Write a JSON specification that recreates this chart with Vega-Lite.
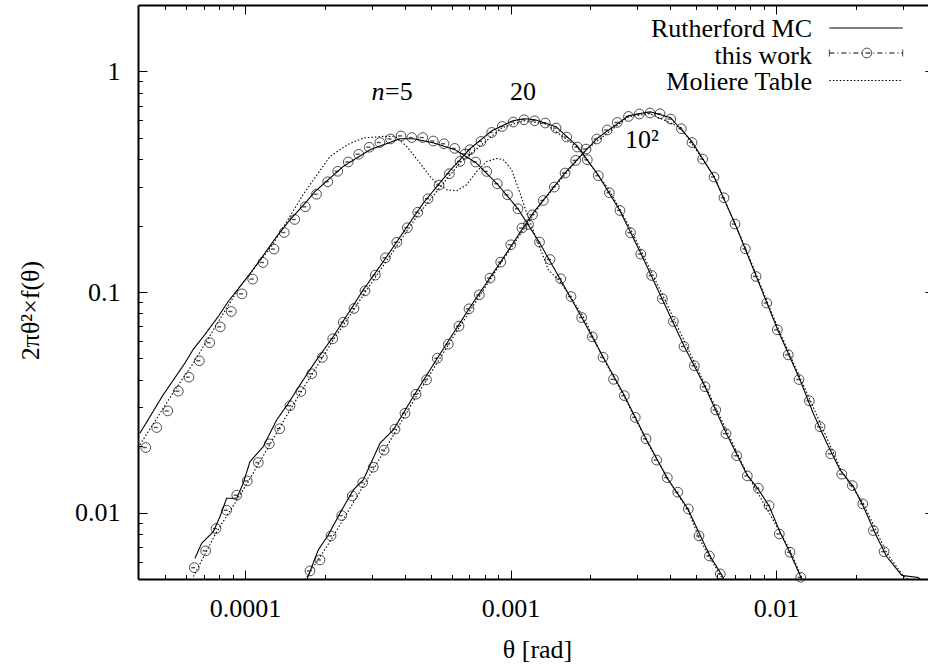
{
  "$schema": "https://vega.github.io/schema/vega-lite/v6.json",
  "width": 790,
  "height": 574,
  "autosize": {"type": "none"},
  "padding": {"left": 138, "top": 5, "right": 0, "bottom": 86},
  "background": "white",
  "config": {
    "view": {"stroke": null},
    "font": "'Liberation Serif', 'Times New Roman', 'DejaVu Serif', serif",
    "text": {"font": "'Liberation Serif', 'Times New Roman', 'DejaVu Serif', serif", "color": "black"}
  },
  "datasets": {
    "curves": [
      {"n": "5", "model": "Rutherford MC", "theta": 4.02e-5, "f": 0.0229},
      {"n": "5", "model": "Rutherford MC", "theta": 4.92e-5, "f": 0.0342},
      {"n": "5", "model": "Rutherford MC", "theta": 5.94e-5, "f": 0.0476},
      {"n": "5", "model": "Rutherford MC", "theta": 6.39e-5, "f": 0.0551},
      {"n": "5", "model": "Rutherford MC", "theta": 6.97e-5, "f": 0.0628},
      {"n": "5", "model": "Rutherford MC", "theta": 7.93e-5, "f": 0.0774},
      {"n": "5", "model": "Rutherford MC", "theta": 8.65e-5, "f": 0.0906},
      {"n": "5", "model": "Rutherford MC", "theta": 9.58e-5, "f": 0.1059},
      {"n": "5", "model": "Rutherford MC", "theta": 1.06e-4, "f": 0.1239},
      {"n": "5", "model": "Rutherford MC", "theta": 1.189e-4, "f": 0.1501},
      {"n": "5", "model": "Rutherford MC", "theta": 1.316e-4, "f": 0.1785},
      {"n": "5", "model": "Rutherford MC", "theta": 1.477e-4, "f": 0.2125},
      {"n": "5", "model": "Rutherford MC", "theta": 1.708e-4, "f": 0.2573},
      {"n": "5", "model": "Rutherford MC", "theta": 1.835e-4, "f": 0.2856},
      {"n": "5", "model": "Rutherford MC", "theta": 2.345e-4, "f": 0.3709},
      {"n": "5", "model": "Rutherford MC", "theta": 2.957e-4, "f": 0.4415},
      {"n": "5", "model": "Rutherford MC", "theta": 3.835e-4, "f": 0.4953},
      {"n": "5", "model": "Rutherford MC", "theta": 4.295e-4, "f": 0.4953},
      {"n": "5", "model": "Rutherford MC", "theta": 5.107e-4, "f": 0.475},
      {"n": "5", "model": "Rutherford MC", "theta": 6.18e-4, "f": 0.4415},
      {"n": "5", "model": "Rutherford MC", "theta": 7.414e-4, "f": 0.3854},
      {"n": "5", "model": "Rutherford MC", "theta": 8.897e-4, "f": 0.3096},
      {"n": "5", "model": "Rutherford MC", "theta": 1.067e-3, "f": 0.2384},
      {"n": "5", "model": "Rutherford MC", "theta": 1.28e-3, "f": 0.169},
      {"n": "5", "model": "Rutherford MC", "theta": 1.536e-3, "f": 0.1148},
      {"n": "5", "model": "Rutherford MC", "theta": 1.858e-3, "f": 0.0764},
      {"n": "5", "model": "Rutherford MC", "theta": 2.231e-3, "f": 0.0508},
      {"n": "5", "model": "Rutherford MC", "theta": 2.676e-3, "f": 0.0342},
      {"n": "5", "model": "Rutherford MC", "theta": 3.239e-3, "f": 0.0216},
      {"n": "5", "model": "Rutherford MC", "theta": 3.886e-3, "f": 0.01437},
      {"n": "5", "model": "Rutherford MC", "theta": 4.661e-3, "f": 0.01039},
      {"n": "5", "model": "Rutherford MC", "theta": 5.129e-3, "f": 0.00809},
      {"n": "5", "model": "Rutherford MC", "theta": 5.64e-3, "f": 0.00636},
      {"n": "5", "model": "Rutherford MC", "theta": 6.31e-3, "f": 0.00511},
      {"n": "5", "model": "Rutherford MC", "theta": 6.48e-3, "f": 0.0047},

      {"n": "5", "model": "Moliere Table", "theta": 4.02e-5, "f": 0.0203},
      {"n": "5", "model": "Moliere Table", "theta": 5.45e-5, "f": 0.036},
      {"n": "5", "model": "Moliere Table", "theta": 6.39e-5, "f": 0.0476},
      {"n": "5", "model": "Moliere Table", "theta": 7.93e-5, "f": 0.0733},
      {"n": "5", "model": "Moliere Table", "theta": 9.58e-5, "f": 0.1059},
      {"n": "5", "model": "Moliere Table", "theta": 1.278e-4, "f": 0.1654},
      {"n": "5", "model": "Moliere Table", "theta": 1.654e-4, "f": 0.276},
      {"n": "5", "model": "Moliere Table", "theta": 2.09e-4, "f": 0.4117},
      {"n": "5", "model": "Moliere Table", "theta": 2.45e-4, "f": 0.468},
      {"n": "5", "model": "Moliere Table", "theta": 2.79e-4, "f": 0.4989},
      {"n": "5", "model": "Moliere Table", "theta": 3.319e-4, "f": 0.5073},
      {"n": "5", "model": "Moliere Table", "theta": 3.673e-4, "f": 0.508},
      {"n": "5", "model": "Moliere Table", "theta": 4.064e-4, "f": 0.457},
      {"n": "5", "model": "Moliere Table", "theta": 4.561e-4, "f": 0.3842},
      {"n": "5", "model": "Moliere Table", "theta": 4.975e-4, "f": 0.3341},
      {"n": "5", "model": "Moliere Table", "theta": 5.272e-4, "f": 0.3118},
      {"n": "5", "model": "Moliere Table", "theta": 5.75e-4, "f": 0.2907},
      {"n": "5", "model": "Moliere Table", "theta": 6.272e-4, "f": 0.2877},
      {"n": "5", "model": "Moliere Table", "theta": 6.839e-4, "f": 0.3064},
      {"n": "5", "model": "Moliere Table", "theta": 7.459e-4, "f": 0.3519},
      {"n": "5", "model": "Moliere Table", "theta": 8.136e-4, "f": 0.3907},
      {"n": "5", "model": "Moliere Table", "theta": 8.872e-4, "f": 0.4031},
      {"n": "5", "model": "Moliere Table", "theta": 9.396e-4, "f": 0.3977},
      {"n": "5", "model": "Moliere Table", "theta": 1.01e-3, "f": 0.3582},
      {"n": "5", "model": "Moliere Table", "theta": 1.086e-3, "f": 0.2809},
      {"n": "5", "model": "Moliere Table", "theta": 1.151e-3, "f": 0.2279},
      {"n": "5", "model": "Moliere Table", "theta": 1.255e-3, "f": 0.1724},
      {"n": "5", "model": "Moliere Table", "theta": 1.329e-3, "f": 0.1449},
      {"n": "5", "model": "Moliere Table", "theta": 1.388e-3, "f": 0.1261},
      {"n": "5", "model": "Moliere Table", "theta": 1.536e-3, "f": 0.1116},
      {"n": "5", "model": "Moliere Table", "theta": 1.675e-3, "f": 0.0954},
      {"n": "5", "model": "Moliere Table", "theta": 1.88e-3, "f": 0.0774},
      {"n": "5", "model": "Moliere Table", "theta": 2.231e-3, "f": 0.0503},
      {"n": "5", "model": "Moliere Table", "theta": 2.683e-3, "f": 0.0335},
      {"n": "5", "model": "Moliere Table", "theta": 3.239e-3, "f": 0.0214},
      {"n": "5", "model": "Moliere Table", "theta": 3.896e-3, "f": 0.01437},
      {"n": "5", "model": "Moliere Table", "theta": 4.674e-3, "f": 0.01018},
      {"n": "5", "model": "Moliere Table", "theta": 5.129e-3, "f": 0.00768},
      {"n": "5", "model": "Moliere Table", "theta": 5.64e-3, "f": 0.00623},
      {"n": "5", "model": "Moliere Table", "theta": 6.26e-3, "f": 0.00506},
      {"n": "5", "model": "Moliere Table", "theta": 6.45e-3, "f": 0.0047},

      {"n": "20", "model": "Rutherford MC", "theta": 6.48e-5, "f": 0.00621},
      {"n": "20", "model": "Rutherford MC", "theta": 6.87e-5, "f": 0.00726},
      {"n": "20", "model": "Rutherford MC", "theta": 7.6e-5, "f": 0.0082},
      {"n": "20", "model": "Rutherford MC", "theta": 8.05e-5, "f": 0.00959},
      {"n": "20", "model": "Rutherford MC", "theta": 8.53e-5, "f": 0.01162},
      {"n": "20", "model": "Rutherford MC", "theta": 9.31e-5, "f": 0.01162},
      {"n": "20", "model": "Rutherford MC", "theta": 9.85e-5, "f": 0.01359},
      {"n": "20", "model": "Rutherford MC", "theta": 1.044e-4, "f": 0.01703},
      {"n": "20", "model": "Rutherford MC", "theta": 1.172e-4, "f": 0.01992},
      {"n": "20", "model": "Rutherford MC", "theta": 1.316e-4, "f": 0.0263},
      {"n": "20", "model": "Rutherford MC", "theta": 1.456e-4, "f": 0.0313},
      {"n": "20", "model": "Rutherford MC", "theta": 1.658e-4, "f": 0.04},
      {"n": "20", "model": "Rutherford MC", "theta": 1.862e-4, "f": 0.0493},
      {"n": "20", "model": "Rutherford MC", "theta": 2.151e-4, "f": 0.0628},
      {"n": "20", "model": "Rutherford MC", "theta": 2.79e-4, "f": 0.1023},
      {"n": "20", "model": "Rutherford MC", "theta": 3.319e-4, "f": 0.1375},
      {"n": "20", "model": "Rutherford MC", "theta": 4.695e-4, "f": 0.2531},
      {"n": "20", "model": "Rutherford MC", "theta": 5.867e-4, "f": 0.3508},
      {"n": "20", "model": "Rutherford MC", "theta": 7.038e-4, "f": 0.4461},
      {"n": "20", "model": "Rutherford MC", "theta": 8.517e-4, "f": 0.5384},
      {"n": "20", "model": "Rutherford MC", "theta": 1.022e-3, "f": 0.5976},
      {"n": "20", "model": "Rutherford MC", "theta": 1.124e-3, "f": 0.6103},
      {"n": "20", "model": "Rutherford MC", "theta": 1.237e-3, "f": 0.6039},
      {"n": "20", "model": "Rutherford MC", "theta": 1.484e-3, "f": 0.5613},
      {"n": "20", "model": "Rutherford MC", "theta": 1.78e-3, "f": 0.4603},
      {"n": "20", "model": "Rutherford MC", "theta": 2.136e-3, "f": 0.3401},
      {"n": "20", "model": "Rutherford MC", "theta": 2.584e-3, "f": 0.2335},
      {"n": "20", "model": "Rutherford MC", "theta": 3.101e-3, "f": 0.149},
      {"n": "20", "model": "Rutherford MC", "theta": 3.721e-3, "f": 0.0932},
      {"n": "20", "model": "Rutherford MC", "theta": 4.503e-3, "f": 0.057},
      {"n": "20", "model": "Rutherford MC", "theta": 5.402e-3, "f": 0.0372},
      {"n": "20", "model": "Rutherford MC", "theta": 6.482e-3, "f": 0.023},
      {"n": "20", "model": "Rutherford MC", "theta": 7.777e-3, "f": 0.01483},
      {"n": "20", "model": "Rutherford MC", "theta": 8.556e-3, "f": 0.01281},
      {"n": "20", "model": "Rutherford MC", "theta": 9.41e-3, "f": 0.01073},
      {"n": "20", "model": "Rutherford MC", "theta": 1.035e-2, "f": 0.00817},
      {"n": "20", "model": "Rutherford MC", "theta": 1.129e-2, "f": 0.00656},
      {"n": "20", "model": "Rutherford MC", "theta": 1.264e-2, "f": 0.00485},

      {"n": "20", "model": "Moliere Table", "theta": 6.39e-5, "f": 0.00513},
      {"n": "20", "model": "Moliere Table", "theta": 7.78e-5, "f": 0.00809},
      {"n": "20", "model": "Moliere Table", "theta": 1.017e-4, "f": 0.0135},
      {"n": "20", "model": "Moliere Table", "theta": 1.477e-4, "f": 0.0292},
      {"n": "20", "model": "Moliere Table", "theta": 2.127e-4, "f": 0.0594},
      {"n": "20", "model": "Moliere Table", "theta": 3.087e-4, "f": 0.116},
      {"n": "20", "model": "Moliere Table", "theta": 4.483e-4, "f": 0.2239},
      {"n": "20", "model": "Moliere Table", "theta": 6.453e-4, "f": 0.3854},
      {"n": "20", "model": "Moliere Table", "theta": 9.29e-4, "f": 0.5555},
      {"n": "20", "model": "Moliere Table", "theta": 1.124e-3, "f": 0.5976},
      {"n": "20", "model": "Moliere Table", "theta": 1.349e-3, "f": 0.5791},
      {"n": "20", "model": "Moliere Table", "theta": 1.78e-3, "f": 0.4555},
      {"n": "20", "model": "Moliere Table", "theta": 2.35e-3, "f": 0.2907},
      {"n": "20", "model": "Moliere Table", "theta": 2.818e-3, "f": 0.1955},
      {"n": "20", "model": "Moliere Table", "theta": 3.721e-3, "f": 0.0981},
      {"n": "20", "model": "Moliere Table", "theta": 5.402e-3, "f": 0.0379},
      {"n": "20", "model": "Moliere Table", "theta": 7.777e-3, "f": 0.01498},
      {"n": "20", "model": "Moliere Table", "theta": 1.129e-2, "f": 0.00677},
      {"n": "20", "model": "Moliere Table", "theta": 1.264e-2, "f": 0.0049},

      {"n": "100", "model": "Rutherford MC", "theta": 1.708e-4, "f": 0.00495},
      {"n": "100", "model": "Rutherford MC", "theta": 1.888e-4, "f": 0.00677},
      {"n": "100", "model": "Rutherford MC", "theta": 2.06e-4, "f": 0.00792},
      {"n": "100", "model": "Rutherford MC", "theta": 2.279e-4, "f": 0.00994},
      {"n": "100", "model": "Rutherford MC", "theta": 2.558e-4, "f": 0.01267},
      {"n": "100", "model": "Rutherford MC", "theta": 2.79e-4, "f": 0.01407},
      {"n": "100", "model": "Rutherford MC", "theta": 3.226e-4, "f": 0.02064},
      {"n": "100", "model": "Rutherford MC", "theta": 3.62e-4, "f": 0.02372},
      {"n": "100", "model": "Rutherford MC", "theta": 4.306e-4, "f": 0.0336},
      {"n": "100", "model": "Rutherford MC", "theta": 5.285e-4, "f": 0.0498},
      {"n": "100", "model": "Rutherford MC", "theta": 6.978e-4, "f": 0.0839},
      {"n": "100", "model": "Rutherford MC", "theta": 9.186e-4, "f": 0.1371},
      {"n": "100", "model": "Rutherford MC", "theta": 1.21e-3, "f": 0.2262},
      {"n": "100", "model": "Rutherford MC", "theta": 1.605e-3, "f": 0.3472},
      {"n": "100", "model": "Rutherford MC", "theta": 2.112e-3, "f": 0.4953},
      {"n": "100", "model": "Rutherford MC", "theta": 2.782e-3, "f": 0.6296},
      {"n": "100", "model": "Rutherford MC", "theta": 3.353e-3, "f": 0.6564},
      {"n": "100", "model": "Rutherford MC", "theta": 4.012e-3, "f": 0.6166},
      {"n": "100", "model": "Rutherford MC", "theta": 4.826e-3, "f": 0.48},
      {"n": "100", "model": "Rutherford MC", "theta": 5.84e-3, "f": 0.333},
      {"n": "100", "model": "Rutherford MC", "theta": 7.008e-3, "f": 0.2038},
      {"n": "100", "model": "Rutherford MC", "theta": 8.409e-3, "f": 0.1184},
      {"n": "100", "model": "Rutherford MC", "theta": 1.011e-2, "f": 0.0681},
      {"n": "100", "model": "Rutherford MC", "theta": 1.231e-2, "f": 0.04},
      {"n": "100", "model": "Rutherford MC", "theta": 1.379e-2, "f": 0.0283},
      {"n": "100", "model": "Rutherford MC", "theta": 1.552e-2, "f": 0.0207},
      {"n": "100", "model": "Rutherford MC", "theta": 1.742e-2, "f": 0.01562},
      {"n": "100", "model": "Rutherford MC", "theta": 1.955e-2, "f": 0.01312},
      {"n": "100", "model": "Rutherford MC", "theta": 2.133e-2, "f": 0.01065},
      {"n": "100", "model": "Rutherford MC", "theta": 2.395e-2, "f": 0.00778},
      {"n": "100", "model": "Rutherford MC", "theta": 2.612e-2, "f": 0.00632},
      {"n": "100", "model": "Rutherford MC", "theta": 2.975e-2, "f": 0.00519},
      {"n": "100", "model": "Rutherford MC", "theta": 3.425e-2, "f": 0.00508},
      {"n": "100", "model": "Rutherford MC", "theta": 3.737e-2, "f": 0.0047},

      {"n": "100", "model": "Moliere Table", "theta": 1.683e-4, "f": 0.00495},
      {"n": "100", "model": "Moliere Table", "theta": 2.109e-4, "f": 0.00752},
      {"n": "100", "model": "Moliere Table", "theta": 3.034e-4, "f": 0.01562},
      {"n": "100", "model": "Moliere Table", "theta": 4.406e-4, "f": 0.0335},
      {"n": "100", "model": "Moliere Table", "theta": 6.397e-4, "f": 0.0688},
      {"n": "100", "model": "Moliere Table", "theta": 9.209e-4, "f": 0.1356},
      {"n": "100", "model": "Moliere Table", "theta": 1.326e-3, "f": 0.2592},
      {"n": "100", "model": "Moliere Table", "theta": 1.925e-3, "f": 0.4415},
      {"n": "100", "model": "Moliere Table", "theta": 2.782e-3, "f": 0.6232},
      {"n": "100", "model": "Moliere Table", "theta": 3.353e-3, "f": 0.643},
      {"n": "100", "model": "Moliere Table", "theta": 4.386e-3, "f": 0.5555},
      {"n": "100", "model": "Moliere Table", "theta": 5.84e-3, "f": 0.3365},
      {"n": "100", "model": "Moliere Table", "theta": 7.642e-3, "f": 0.1603},
      {"n": "100", "model": "Moliere Table", "theta": 1.009e-2, "f": 0.0702},
      {"n": "100", "model": "Moliere Table", "theta": 1.343e-2, "f": 0.0324},
      {"n": "100", "model": "Moliere Table", "theta": 1.768e-2, "f": 0.0153},
      {"n": "100", "model": "Moliere Table", "theta": 2.127e-2, "f": 0.01107},
      {"n": "100", "model": "Moliere Table", "theta": 2.612e-2, "f": 0.00656},
      {"n": "100", "model": "Moliere Table", "theta": 3.015e-2, "f": 0.00516},
      {"n": "100", "model": "Moliere Table", "theta": 3.197e-2, "f": 0.00495}
    ],
    "thiswork": [
      {"n": "5", "theta": 4.23e-5, "f": 0.01972},
      {"n": "5", "theta": 4.65e-5, "f": 0.0243},
      {"n": "5", "theta": 5.12e-5, "f": 0.0289},
      {"n": "5", "theta": 5.61e-5, "f": 0.0355},
      {"n": "5", "theta": 6.15e-5, "f": 0.0411},
      {"n": "5", "theta": 6.73e-5, "f": 0.0488},
      {"n": "5", "theta": 7.36e-5, "f": 0.0589},
      {"n": "5", "theta": 8.07e-5, "f": 0.0695},
      {"n": "5", "theta": 8.88e-5, "f": 0.0816},
      {"n": "5", "theta": 9.74e-5, "f": 0.0981},
      {"n": "5", "theta": 1.069e-4, "f": 0.1144},
      {"n": "5", "theta": 1.169e-4, "f": 0.1361},
      {"n": "5", "theta": 1.286e-4, "f": 0.1565},
      {"n": "5", "theta": 1.406e-4, "f": 0.1861},
      {"n": "5", "theta": 1.539e-4, "f": 0.2132},
      {"n": "5", "theta": 1.687e-4, "f": 0.2434},
      {"n": "5", "theta": 1.859e-4, "f": 0.2774},
      {"n": "5", "theta": 2.049e-4, "f": 0.3161},
      {"n": "5", "theta": 2.235e-4, "f": 0.3526},
      {"n": "5", "theta": 2.449e-4, "f": 0.3888},
      {"n": "5", "theta": 2.681e-4, "f": 0.4212},
      {"n": "5", "theta": 2.937e-4, "f": 0.4532},
      {"n": "5", "theta": 3.22e-4, "f": 0.4761},
      {"n": "5", "theta": 3.532e-4, "f": 0.4943},
      {"n": "5", "theta": 3.869e-4, "f": 0.51},
      {"n": "5", "theta": 4.249e-4, "f": 0.5014},
      {"n": "5", "theta": 4.67e-4, "f": 0.5014},
      {"n": "5", "theta": 5.12e-4, "f": 0.4835},
      {"n": "5", "theta": 5.617e-4, "f": 0.47},
      {"n": "5", "theta": 6.165e-4, "f": 0.4476},
      {"n": "5", "theta": 6.741e-4, "f": 0.4221},
      {"n": "5", "theta": 7.394e-4, "f": 0.3883},
      {"n": "5", "theta": 8.136e-4, "f": 0.3519},
      {"n": "5", "theta": 8.918e-4, "f": 0.3096},
      {"n": "5", "theta": 9.743e-4, "f": 0.276},
      {"n": "5", "theta": 1.067e-3, "f": 0.2384},
      {"n": "5", "theta": 1.169e-3, "f": 0.2023},
      {"n": "5", "theta": 1.286e-3, "f": 0.1684},
      {"n": "5", "theta": 1.409e-3, "f": 0.1404},
      {"n": "5", "theta": 1.546e-3, "f": 0.1148},
      {"n": "5", "theta": 1.69e-3, "f": 0.0954},
      {"n": "5", "theta": 1.854e-3, "f": 0.0766},
      {"n": "5", "theta": 2.033e-3, "f": 0.0626},
      {"n": "5", "theta": 2.231e-3, "f": 0.0506},
      {"n": "5", "theta": 2.443e-3, "f": 0.0402},
      {"n": "5", "theta": 2.683e-3, "f": 0.0339},
      {"n": "5", "theta": 2.951e-3, "f": 0.027},
      {"n": "5", "theta": 3.239e-3, "f": 0.0216},
      {"n": "5", "theta": 3.553e-3, "f": 0.0173},
      {"n": "5", "theta": 3.896e-3, "f": 0.0144},
      {"n": "5", "theta": 4.265e-3, "f": 0.01237},
      {"n": "5", "theta": 4.674e-3, "f": 0.01039},
      {"n": "5", "theta": 5.129e-3, "f": 0.00784},
      {"n": "5", "theta": 5.609e-3, "f": 0.00636},
      {"n": "5", "theta": 6.17e-3, "f": 0.00527},

      {"n": "20", "theta": 6.44e-5, "f": 0.00563},
      {"n": "20", "theta": 7.11e-5, "f": 0.00671},
      {"n": "20", "theta": 7.78e-5, "f": 0.00846},
      {"n": "20", "theta": 8.53e-5, "f": 0.01025},
      {"n": "20", "theta": 9.31e-5, "f": 0.01199},
      {"n": "20", "theta": 1.02e-4, "f": 0.01392},
      {"n": "20", "theta": 1.122e-4, "f": 0.01686},
      {"n": "20", "theta": 1.235e-4, "f": 0.0205},
      {"n": "20", "theta": 1.351e-4, "f": 0.024},
      {"n": "20", "theta": 1.477e-4, "f": 0.0305},
      {"n": "20", "theta": 1.623e-4, "f": 0.0354},
      {"n": "20", "theta": 1.783e-4, "f": 0.0426},
      {"n": "20", "theta": 1.955e-4, "f": 0.0505},
      {"n": "20", "theta": 2.14e-4, "f": 0.0614},
      {"n": "20", "theta": 2.345e-4, "f": 0.073},
      {"n": "20", "theta": 2.573e-4, "f": 0.0842},
      {"n": "20", "theta": 2.831e-4, "f": 0.1012},
      {"n": "20", "theta": 3.096e-4, "f": 0.1193},
      {"n": "20", "theta": 3.382e-4, "f": 0.1429},
      {"n": "20", "theta": 3.729e-4, "f": 0.168},
      {"n": "20", "theta": 4.087e-4, "f": 0.1955},
      {"n": "20", "theta": 4.475e-4, "f": 0.2299},
      {"n": "20", "theta": 4.89e-4, "f": 0.2647},
      {"n": "20", "theta": 5.38e-4, "f": 0.3053},
      {"n": "20", "theta": 5.882e-4, "f": 0.3437},
      {"n": "20", "theta": 6.453e-4, "f": 0.3907},
      {"n": "20", "theta": 7.038e-4, "f": 0.4415},
      {"n": "20", "theta": 7.743e-4, "f": 0.4814},
      {"n": "20", "theta": 8.496e-4, "f": 0.5289},
      {"n": "20", "theta": 9.314e-4, "f": 0.5631},
      {"n": "20", "theta": 1.024e-3, "f": 0.5895},
      {"n": "20", "theta": 1.124e-3, "f": 0.6039},
      {"n": "20", "theta": 1.233e-3, "f": 0.5976},
      {"n": "20", "theta": 1.352e-3, "f": 0.5834},
      {"n": "20", "theta": 1.484e-3, "f": 0.5537},
      {"n": "20", "theta": 1.628e-3, "f": 0.504},
      {"n": "20", "theta": 1.785e-3, "f": 0.4541},
      {"n": "20", "theta": 1.947e-3, "f": 0.3977},
      {"n": "20", "theta": 2.141e-3, "f": 0.3365},
      {"n": "20", "theta": 2.356e-3, "f": 0.2818},
      {"n": "20", "theta": 2.584e-3, "f": 0.2342},
      {"n": "20", "theta": 2.831e-3, "f": 0.1856},
      {"n": "20", "theta": 3.094e-3, "f": 0.1485},
      {"n": "20", "theta": 3.402e-3, "f": 0.1188},
      {"n": "20", "theta": 3.731e-3, "f": 0.0932},
      {"n": "20", "theta": 4.104e-3, "f": 0.0735},
      {"n": "20", "theta": 4.503e-3, "f": 0.0566},
      {"n": "20", "theta": 4.925e-3, "f": 0.0463},
      {"n": "20", "theta": 5.402e-3, "f": 0.0372},
      {"n": "20", "theta": 5.928e-3, "f": 0.0292},
      {"n": "20", "theta": 6.482e-3, "f": 0.0228},
      {"n": "20", "theta": 7.112e-3, "f": 0.0181},
      {"n": "20", "theta": 7.797e-3, "f": 0.01467},
      {"n": "20", "theta": 8.578e-3, "f": 0.0129},
      {"n": "20", "theta": 9.41e-3, "f": 0.01076},
      {"n": "20", "theta": 1.029e-2, "f": 0.008},
      {"n": "20", "theta": 1.129e-2, "f": 0.00661},
      {"n": "20", "theta": 1.239e-2, "f": 0.00509},

      {"n": "100", "theta": 1.757e-4, "f": 0.00544},
      {"n": "100", "theta": 1.916e-4, "f": 0.0061},
      {"n": "100", "theta": 2.109e-4, "f": 0.00784},
      {"n": "100", "theta": 2.313e-4, "f": 0.00969},
      {"n": "100", "theta": 2.536e-4, "f": 0.0119},
      {"n": "100", "theta": 2.775e-4, "f": 0.01368},
      {"n": "100", "theta": 3.042e-4, "f": 0.01606},
      {"n": "100", "theta": 3.339e-4, "f": 0.01919},
      {"n": "100", "theta": 3.673e-4, "f": 0.0239},
      {"n": "100", "theta": 4.004e-4, "f": 0.0282},
      {"n": "100", "theta": 4.406e-4, "f": 0.0344},
      {"n": "100", "theta": 4.827e-4, "f": 0.04},
      {"n": "100", "theta": 5.299e-4, "f": 0.0501},
      {"n": "100", "theta": 5.831e-4, "f": 0.058},
      {"n": "100", "theta": 6.397e-4, "f": 0.07},
      {"n": "100", "theta": 6.978e-4, "f": 0.0839},
      {"n": "100", "theta": 7.63e-4, "f": 0.0971},
      {"n": "100", "theta": 8.371e-4, "f": 0.1156},
      {"n": "100", "theta": 9.186e-4, "f": 0.1366},
      {"n": "100", "theta": 1.002e-3, "f": 0.1637},
      {"n": "100", "theta": 1.104e-3, "f": 0.1949},
      {"n": "100", "theta": 1.21e-3, "f": 0.2239},
      {"n": "100", "theta": 1.329e-3, "f": 0.26},
      {"n": "100", "theta": 1.462e-3, "f": 0.299},
      {"n": "100", "theta": 1.605e-3, "f": 0.3461},
      {"n": "100", "theta": 1.76e-3, "f": 0.3949},
      {"n": "100", "theta": 1.925e-3, "f": 0.4447},
      {"n": "100", "theta": 2.112e-3, "f": 0.4937},
      {"n": "100", "theta": 2.313e-3, "f": 0.5423},
      {"n": "100", "theta": 2.525e-3, "f": 0.5871},
      {"n": "100", "theta": 2.782e-3, "f": 0.625},
      {"n": "100", "theta": 3.056e-3, "f": 0.641},
      {"n": "100", "theta": 3.353e-3, "f": 0.648},
      {"n": "100", "theta": 3.657e-3, "f": 0.643},
      {"n": "100", "theta": 4.012e-3, "f": 0.608},
      {"n": "100", "theta": 4.398e-3, "f": 0.55},
      {"n": "100", "theta": 4.826e-3, "f": 0.476},
      {"n": "100", "theta": 5.293e-3, "f": 0.4006},
      {"n": "100", "theta": 5.84e-3, "f": 0.332},
      {"n": "100", "theta": 6.369e-3, "f": 0.2674},
      {"n": "100", "theta": 7.008e-3, "f": 0.2032},
      {"n": "100", "theta": 7.663e-3, "f": 0.157},
      {"n": "100", "theta": 8.409e-3, "f": 0.1176},
      {"n": "100", "theta": 9.226e-3, "f": 0.0891},
      {"n": "100", "theta": 1.011e-2, "f": 0.0674},
      {"n": "100", "theta": 1.112e-2, "f": 0.0519},
      {"n": "100", "theta": 1.221e-2, "f": 0.0401},
      {"n": "100", "theta": 1.335e-2, "f": 0.0321},
      {"n": "100", "theta": 1.465e-2, "f": 0.0245},
      {"n": "100", "theta": 1.607e-2, "f": 0.01846},
      {"n": "100", "theta": 1.768e-2, "f": 0.01493},
      {"n": "100", "theta": 1.939e-2, "f": 0.01326},
      {"n": "100", "theta": 2.122e-2, "f": 0.01095},
      {"n": "100", "theta": 2.326e-2, "f": 0.00829},
      {"n": "100", "theta": 2.552e-2, "f": 0.00665}
    ],
    "keySamples": [
      {"model": "Rutherford MC", "theta": 0.01588, "f": 1.574},
      {"model": "Rutherford MC", "theta": 0.03, "f": 1.574},
      {"model": "this work", "theta": 0.01588, "f": 1.212},
      {"model": "this work", "theta": 0.03, "f": 1.212},
      {"model": "Moliere Table", "theta": 0.01588, "f": 0.91},
      {"model": "Moliere Table", "theta": 0.03, "f": 0.91}
    ],
    "keyMarker": [
      {"model": "this work", "theta": 0.02199, "f": 1.212}
    ],
    "keyLabels": [
      {"label": "Rutherford MC", "theta": 0.01366, "f": 1.432},
      {"label": "this work", "theta": 0.01366, "f": 1.078},
      {"label": "Moliere Table", "theta": 0.01366, "f": 0.82}
    ],
    "curveLabels": [
      {"label": "=5", "theta": 3.37e-4, "f": 0.744},
      {"label": "20", "theta": 9.96e-4, "f": 0.744},
      {"label": "10²", "theta": 2.7e-3, "f": 0.4495}
    ]
  },
  "resolve": {"axis": {"x": "independent", "y": "independent"}},
  "layer": [
    {
      "data": {"name": "curves"},
      "mark": {"type": "line", "clip": true, "color": "black", "strokeWidth": 1.1},
      "encoding": {
        "x": {
          "field": "theta", "type": "quantitative",
          "scale": {"type": "log", "domain": [3.954e-5, 0.03736], "nice": false},
          "axis": {
            "orient": "bottom",
            "values": [5e-5, 6e-5, 7e-5, 8e-5, 9e-5, 0.0001, 0.0002, 0.0003, 0.0004, 0.0005, 0.0006, 0.0007, 0.0008, 0.0009, 0.001, 0.002, 0.003, 0.004, 0.005, 0.006, 0.007, 0.008, 0.009, 0.01, 0.02, 0.03],
            "format": "~g",
            "labelExpr": "abs(log(datum.value)/LN10 - round(log(datum.value)/LN10)) < 0.001 ? datum.label : ''",
            "tickSize": {"condition": {"test": "abs(log(datum.value)/LN10 - round(log(datum.value)/LN10)) < 0.001", "value": -9}, "value": -4.5},
            "tickColor": "black", "tickWidth": 1,
            "domainColor": "black", "domainWidth": 2,
            "grid": false,
            "labelFont": "'Liberation Serif', 'Times New Roman', 'DejaVu Serif', serif", "labelFontSize": 26, "labelColor": "black",
            "labelPadding": 25, "labelOverlap": false, "labelFlush": false,
            "title": "θ [rad]",
            "titleFont": "'Liberation Serif', 'Times New Roman', 'DejaVu Serif', serif", "titleFontSize": 26, "titleFontWeight": "normal", "titleColor": "black",
            "titleX": 399, "titleY": 78, "titleBaseline": "alphabetic", "titleAlign": "center"
          }
        },
        "y": {
          "field": "f", "type": "quantitative",
          "scale": {"type": "log", "domain": [0.005, 2], "nice": false},
          "axis": {
            "orient": "left",
            "values": [0.006, 0.007, 0.008, 0.009, 0.01, 0.02, 0.03, 0.04, 0.05, 0.06, 0.07, 0.08, 0.09, 0.1, 0.2, 0.3, 0.4, 0.5, 0.6, 0.7, 0.8, 0.9, 1],
            "format": "~g",
            "labelExpr": "abs(log(datum.value)/LN10 - round(log(datum.value)/LN10)) < 0.001 ? datum.label : ''",
            "tickSize": {"condition": {"test": "abs(log(datum.value)/LN10 - round(log(datum.value)/LN10)) < 0.001", "value": -9}, "value": -4.5},
            "tickColor": "black", "tickWidth": 1,
            "domainColor": "black", "domainWidth": 2,
            "grid": false,
            "labelFont": "'Liberation Serif', 'Times New Roman', 'DejaVu Serif', serif", "labelFontSize": 26, "labelColor": "black",
            "labelPadding": 27, "labelOverlap": false, "labelFlush": false,
            "title": "2πθ²×f(θ)",
            "titleFont": "'Liberation Serif', 'Times New Roman', 'DejaVu Serif', serif", "titleFontSize": 26, "titleFontWeight": "normal", "titleColor": "black",
            "titleAngle": 270, "titleX": -108, "titleY": 305, "titleAlign": "center", "titleBaseline": "middle"
          }
        },
        "detail": {"field": "n", "type": "nominal"},
        "strokeDash": {
          "field": "model", "type": "nominal",
          "scale": {"domain": ["Rutherford MC", "this work", "Moliere Table"], "range": [[1, 0], [5, 3, 1, 3], [1.5, 2]]},
          "legend": null
        }
      }
    },
    {
      "data": {"name": "thiswork"},
      "mark": {"type": "point", "shape": "circle", "filled": false, "size": 95, "color": "black", "strokeWidth": 1},
      "encoding": {
        "x": {
          "field": "theta", "type": "quantitative",
          "scale": {"type": "log", "domain": [3.954e-5, 0.03736], "nice": false},
          "axis": {
            "orient": "top",
            "values": [5e-5, 6e-5, 7e-5, 8e-5, 9e-5, 0.0001, 0.0002, 0.0003, 0.0004, 0.0005, 0.0006, 0.0007, 0.0008, 0.0009, 0.001, 0.002, 0.003, 0.004, 0.005, 0.006, 0.007, 0.008, 0.009, 0.01, 0.02, 0.03],
            "labels": false,
            "tickSize": {"condition": {"test": "abs(log(datum.value)/LN10 - round(log(datum.value)/LN10)) < 0.001", "value": -9}, "value": -4.5},
            "tickColor": "black", "tickWidth": 1,
            "domainColor": "black", "domainWidth": 2,
            "grid": false,
            "title": null
          }
        },
        "y": {
          "field": "f", "type": "quantitative",
          "scale": {"type": "log", "domain": [0.005, 2], "nice": false},
          "axis": {
            "orient": "right",
            "values": [0.01, 0.1, 1],
            "labels": false,
            "domain": false,
            "tickSize": -3,
            "tickColor": "black", "tickWidth": 1,
            "grid": false,
            "title": null
          }
        },
        "detail": {"field": "n", "type": "nominal"}
      }
    },
    {
      "data": {"name": "thiswork"},
      "mark": {"type": "tick", "orient": "horizontal", "size": 4, "thickness": 1.4, "color": "black", "xOffset": -1},
      "encoding": {
        "x": {"field": "theta", "type": "quantitative", "scale": {"type": "log"}, "axis": null},
        "y": {"field": "f", "type": "quantitative", "scale": {"type": "log"}, "axis": null}
      }
    },
    {
      "data": {"name": "keySamples"},
      "mark": {"type": "line", "color": "black", "strokeWidth": 1.1},
      "encoding": {
        "x": {"field": "theta", "type": "quantitative", "scale": {"type": "log"}, "axis": null},
        "y": {"field": "f", "type": "quantitative", "scale": {"type": "log"}, "axis": null},
        "strokeDash": {
          "field": "model", "type": "nominal",
          "scale": {"domain": ["Rutherford MC", "this work", "Moliere Table"], "range": [[1, 0], [5, 3, 1, 3], [1.5, 2]]},
          "legend": null
        }
      }
    },
    {
      "data": {"name": "keySamples"},
      "transform": [{"filter": "datum.model == 'this work'"}],
      "mark": {"type": "tick", "orient": "vertical", "size": 7, "thickness": 1, "color": "black"},
      "encoding": {
        "x": {"field": "theta", "type": "quantitative", "scale": {"type": "log"}, "axis": null},
        "y": {"field": "f", "type": "quantitative", "scale": {"type": "log"}, "axis": null}
      }
    },
    {
      "data": {"name": "keyMarker"},
      "mark": {"type": "point", "shape": "circle", "filled": false, "size": 95, "color": "black", "strokeWidth": 1},
      "encoding": {
        "x": {"field": "theta", "type": "quantitative", "scale": {"type": "log"}, "axis": null},
        "y": {"field": "f", "type": "quantitative", "scale": {"type": "log"}, "axis": null}
      }
    },
    {
      "data": {"name": "keyLabels"},
      "mark": {"type": "text", "align": "right", "baseline": "alphabetic", "fontSize": 26, "font": "'Liberation Serif', 'Times New Roman', 'DejaVu Serif', serif", "color": "black"},
      "encoding": {
        "x": {"field": "theta", "type": "quantitative", "scale": {"type": "log"}, "axis": null},
        "y": {"field": "f", "type": "quantitative", "scale": {"type": "log"}, "axis": null},
        "text": {"field": "label"}
      }
    },
    {
      "data": {"name": "curveLabels"},
      "mark": {"type": "text", "align": "left", "baseline": "alphabetic", "fontSize": 26, "font": "'Liberation Serif', 'Times New Roman', 'DejaVu Serif', serif", "color": "black"},
      "encoding": {
        "x": {"field": "theta", "type": "quantitative", "scale": {"type": "log"}, "axis": null},
        "y": {"field": "f", "type": "quantitative", "scale": {"type": "log"}, "axis": null},
        "text": {"field": "label"}
      }
    },
    {
      "data": {"values": [{"label": "n", "theta": 3.35e-4, "f": 0.744}]},
      "mark": {"type": "text", "align": "right", "baseline": "alphabetic", "fontSize": 26, "font": "'Liberation Serif', 'Times New Roman', 'DejaVu Serif', serif", "fontStyle": "italic", "color": "black"},
      "encoding": {
        "x": {"field": "theta", "type": "quantitative", "scale": {"type": "log"}, "axis": null},
        "y": {"field": "f", "type": "quantitative", "scale": {"type": "log"}, "axis": null},
        "text": {"field": "label"}
      }
    }
  ]
}
